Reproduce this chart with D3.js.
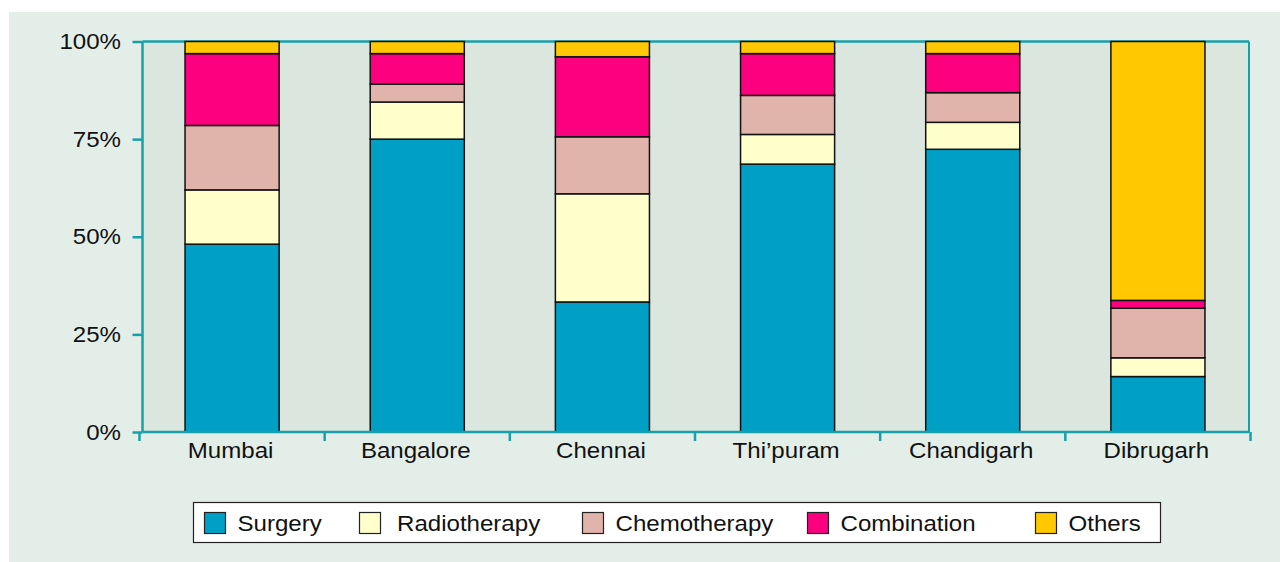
<!DOCTYPE html>
<html>
<head>
<meta charset="utf-8">
<script src="https://cdn.jsdelivr.net/npm/d3@7"></script>
<style>
  html, body { margin: 0; padding: 0; background: #ffffff; }
  svg { display: block; }
  text { font-family: "Liberation Sans", Arial, Helvetica, sans-serif; fill: #111; }
</style>
</head>
<body>
<svg id="chart" width="1280" height="562"></svg>
<script>
// Treatment mix (% of cases) by registry
const cities = ["Mumbai", "Bangalore", "Chennai", "Thi\u2019puram", "Chandigarh", "Dibrugarh"];
const treatments = ["Surgery", "Radiotherapy", "Chemotherapy", "Combination", "Others"];
const surgery      = [48.1, 75.0, 33.3, 68.6, 72.4, 14.2];
const radiotherapy = [13.9,  9.5, 27.7,  7.6,  6.9,  4.8];
const chemotherapy = [16.5,  4.6, 14.6, 10.0,  7.6, 12.7];
const combination  = [18.4,  7.8, 20.5, 10.7, 10.0,  2.0];
const others       = [ 3.1,  3.1,  3.9,  3.1,  3.1, 66.3];
const yTicks = [0, 25, 50, 75, 100];
const colors = ["#00a0c6", "#ffffcc", "#e0b4aa", "#fc007f", "#ffc800"];

const seriesValues = [surgery, radiotherapy, chemotherapy, combination, others];
const rows = cities.map((c, i) => {
  const r = { city: c };
  treatments.forEach((t, k) => { r[t] = seriesValues[k][i]; });
  return r;
});

const FONT = 22.5;     // label size
const WIDEN = 1.07;    // slightly wide lettering

const svg = d3.select("#chart");

// outer panel
svg.append("rect").attr("x", 9).attr("y", 12).attr("width", 1271).attr("height", 550)
  .attr("fill", "#e4eee8");

const plot = { left: 142.5, right: 1249, top: 41.5, bottom: 432 };

const x = d3.scaleBand().domain(cities).range([139.5, 1250.5]).padding(0);
const y = d3.scaleLinear().domain([0, 100]).range([plot.bottom, plot.top]);

// plot background
svg.append("rect")
  .attr("x", plot.left).attr("y", plot.top)
  .attr("width", plot.right - plot.left).attr("height", plot.bottom - plot.top)
  .attr("fill", "#dae6de");

// top and right frame lines
const axisColor = "#18a0aa";
svg.append("line").attr("x1", plot.left).attr("x2", plot.right)
  .attr("y1", plot.top).attr("y2", plot.top)
  .attr("stroke", axisColor).attr("stroke-width", 2.5);
svg.append("line").attr("x1", plot.right).attr("x2", plot.right)
  .attr("y1", plot.top).attr("y2", plot.bottom)
  .attr("stroke", axisColor).attr("stroke-width", 2);

// stacked bars
const stack = d3.stack().keys(treatments)(rows);
const barW = x.bandwidth() * 0.508;
stack.forEach((layer, k) => {
  svg.append("g").selectAll("rect").data(layer).join("rect")
    .attr("x", d => x(d.data.city) + (x.bandwidth() - barW) / 2)
    .attr("y", d => y(d[1]))
    .attr("width", barW)
    .attr("height", d => y(d[0]) - y(d[1]))
    .attr("fill", colors[k])
    .attr("stroke", "#111")
    .attr("stroke-width", 1.5);
});

// y axis
const yAxis = svg.append("g").attr("transform", `translate(${plot.left},0)`)
  .call(d3.axisLeft(y).tickValues(yTicks).tickFormat(d => d + "%").tickSize(10).tickPadding(12));
yAxis.select(".domain").attr("stroke", axisColor).attr("stroke-width", 2.5)
  .attr("d", `M0,${plot.top}V${plot.bottom}`);
yAxis.selectAll(".tick line").attr("stroke", axisColor).attr("stroke-width", 2.5);
yAxis.selectAll(".tick text")
  .style("font-size", FONT + "px").attr("fill", "#111")
  .style("font-family", "'Liberation Sans', Arial, sans-serif")
  .attr("x", 0)
  .attr("transform", `translate(-21.5,0) scale(${WIDEN},1)`);

// x axis, ticks on category boundaries
const boundaries = d3.range(cities.length + 1).map(i => x.range()[0] + i * x.step());
const xg = svg.append("g");
xg.append("line").attr("x1", plot.left).attr("x2", plot.right)
  .attr("y1", plot.bottom).attr("y2", plot.bottom)
  .attr("stroke", axisColor).attr("stroke-width", 2.5);
xg.selectAll("line.tk").data(boundaries).join("line").attr("class", "tk")
  .attr("x1", d => d).attr("x2", d => d)
  .attr("y1", plot.bottom).attr("y2", plot.bottom + 9)
  .attr("stroke", axisColor).attr("stroke-width", 2.5);
xg.selectAll("text").data(cities).join("text")
  .attr("transform", d => `translate(${x(d) + x.bandwidth() / 2 - 1.5},457.5) scale(${WIDEN},1)`)
  .attr("text-anchor", "middle")
  .style("font-size", FONT + "px")
  .text(d => d);

// legend
const legend = svg.append("g");
legend.append("rect").attr("x", 193.5).attr("y", 502.5).attr("width", 967).attr("height", 40)
  .attr("fill", "#ffffff").attr("stroke", "#222").attr("stroke-width", 1.2);
const legendX = [204.5, 359.5, 582.5, 807.5, 1035.5];
const items = legend.selectAll("g.item").data(treatments).join("g").attr("class", "item")
  .attr("transform", (d, i) => `translate(${legendX[i]},512.5)`);
items.append("rect").attr("width", 21).attr("height", 21)
  .attr("fill", (d, i) => colors[i]).attr("stroke", "#222").attr("stroke-width", 1.2);
items.append("text")
  .attr("transform", (d, i) => `translate(${i === 1 ? 37.5 : 33},18.5) scale(${WIDEN},1)`)
  .style("font-size", FONT + "px").text(d => d);
</script>
</body>
</html>
